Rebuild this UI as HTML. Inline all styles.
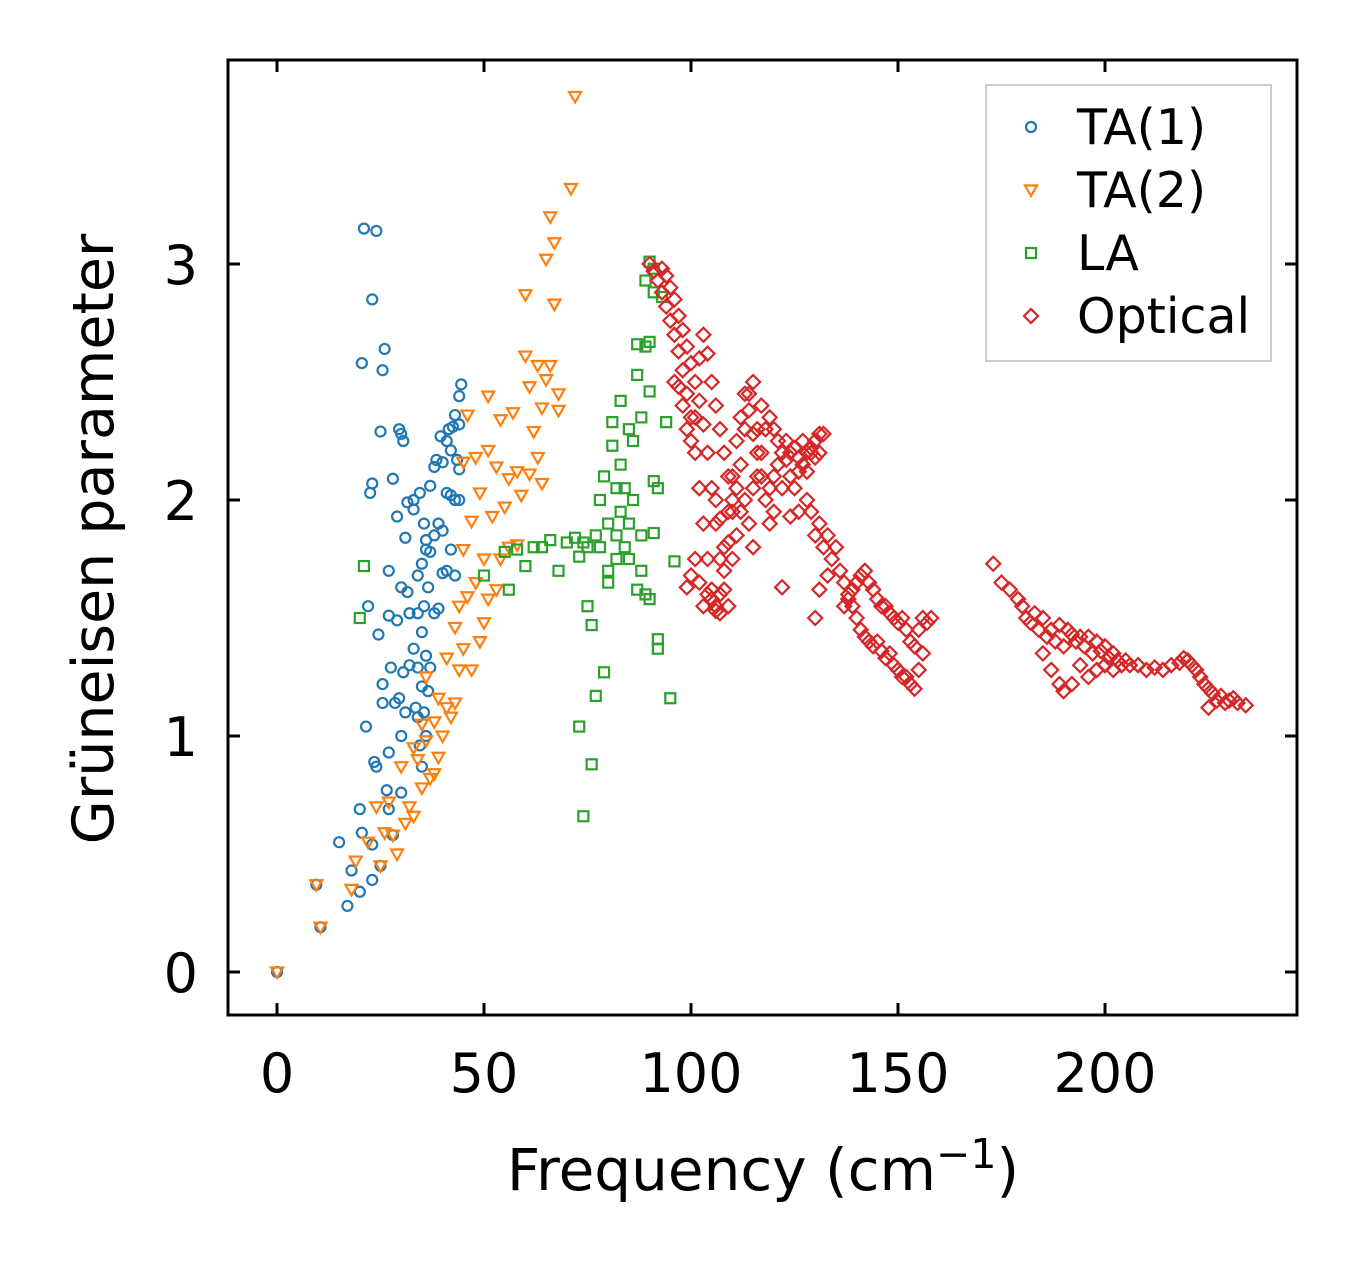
<!DOCTYPE html>
<html><head><meta charset="utf-8"><style>
body{margin:0;background:#fff;}
svg{display:block;font-family:"DejaVu Sans","Liberation Sans",sans-serif;}
</style></head><body>
<svg id="chart" width="1357" height="1264" viewBox="0 0 1357 1264" xmlns="http://www.w3.org/2000/svg">
<rect width="1357" height="1264" fill="#fff"/>
<g id="marks"></g>
<rect x="228" y="60" width="1069" height="955" fill="none" stroke="#000" stroke-width="3"/>
<g id="ticks"></g>
<text x="763" y="1190" font-size="58" text-anchor="middle">Frequency (cm<tspan dy="-22" font-size="41">−1</tspan><tspan dy="22">)</tspan></text>
<text transform="translate(113,539) rotate(-90)" font-size="57" text-anchor="middle">Grüneisen parameter</text>
<g>
<rect x="986" y="85" width="285" height="276" fill="#fff" stroke="#bbb" stroke-width="1.5"/>
<g id="legend-items"></g>
</g>
</svg>
<script>
const xTicks=[0,50,100,150,200];
const yTicks=[0,1,2,3];
const seriesNames=["TA(1)","TA(2)","LA","Optical"];
const seriesColors=["#1f77b4","#ff7f0e","#2ca02c","#d62728"];
const ta1=[[0,0],[9.5,0.37],[10.5,0.19],[15,0.55],[17,0.28],[18,0.43],[20,0.34],[20,0.69],[20.5,2.58],[20.5,0.59],[21,3.15],[21.5,1.04],[22,1.55],[22.5,2.03],[23,2.85],[23,2.07],[23,0.54],[23,0.39],[23.5,0.89],[24,3.14],[24,0.87],[24.5,1.43],[25,2.29],[25,0.45],[25.5,2.55],[25.5,1.22],[25.5,1.14],[26,2.64],[26.5,0.77],[27,1.51],[27,1.70],[27,0.93],[27,0.69],[27.5,1.29],[28,2.09],[28,0.58],[28.5,1.14],[29,1.93],[29,1.49],[29.5,2.30],[29.5,1.16],[30,2.28],[30,1.63],[30,1.00],[30,0.76],[30.5,2.25],[30.5,1.27],[31,1.84],[31,1.10],[31.5,1.99],[31.5,1.61],[32,1.30],[32,1.52],[33,2.00],[33,1.96],[33,1.37],[33.5,1.12],[34,1.68],[34,1.52],[34,1.29],[34,1.08],[34.5,2.03],[34.5,0.96],[35,1.73],[35,1.44],[35,1.21],[35,0.87],[35.5,1.90],[35.5,1.55],[35.5,1.10],[36,1.83],[36,1.79],[36,1.34],[36,1.00],[36.5,1.63],[36.5,1.19],[37,2.06],[37,1.78],[37,1.29],[38,2.14],[38,1.85],[38,1.52],[38.5,2.17],[39,1.90],[39,1.54],[39.5,2.27],[40,2.16],[40,1.87],[40,1.69],[41,2.25],[41,2.03],[41,1.70],[41.5,2.30],[42,2.21],[42,2.02],[42,1.79],[42.5,2.31],[43,2.36],[43,2.00],[43,1.68],[43.5,2.17],[44,2.44],[44,2.32],[44,2.13],[44,2.00],[44.5,2.49]];
const ta2=[[0,0],[9.5,0.37],[10.5,0.19],[18,0.35],[19,0.47],[22,0.55],[24,0.70],[25,0.45],[26,0.59],[27,0.72],[28,0.58],[29,0.50],[30,0.87],[31,0.63],[32,0.70],[33,0.66],[33,0.95],[34,0.90],[35,1.05],[35,0.78],[36,0.98],[36,1.25],[37,0.82],[38,1.06],[38,0.84],[39,0.91],[39,1.16],[40,1.00],[41,1.12],[41,1.33],[42,1.08],[43,1.14],[43,1.46],[44,1.28],[44,1.55],[45,1.37],[45,1.79],[45,2.16],[46,1.59],[46,2.36],[47,1.28],[47,1.91],[48,1.65],[48,2.18],[49,1.40],[49,2.03],[50,1.48],[50,1.75],[51,1.58],[51,2.21],[51,2.44],[52,1.93],[53,1.62],[53,2.14],[54,2.34],[54,1.75],[55,1.97],[56,1.80],[56,2.09],[57,2.37],[58,1.81],[58,2.12],[59,2.02],[60,2.87],[60,2.61],[61,2.48],[61,2.11],[62,2.29],[63,2.57],[63,2.18],[64,2.39],[64,2.07],[65,3.02],[65,2.51],[66,3.20],[66,2.57],[67,3.09],[67,2.83],[68,2.45],[68,2.38],[71,3.32],[72,3.71]];
const la=[[20,1.50],[21,1.72],[50,1.68],[55,1.78],[56,1.62],[58,1.79],[60,1.72],[62,1.80],[64,1.80],[66,1.83],[68,1.70],[70,1.82],[72,1.84],[73,1.76],[73,1.04],[74,0.66],[74,1.82],[75,1.80],[75,1.55],[76,0.88],[76,1.47],[77,1.17],[77,1.85],[78,2.00],[78,1.80],[79,1.27],[79,2.10],[80,1.70],[80,1.65],[80,1.90],[81,2.23],[81,2.33],[82,1.85],[82,2.05],[82,1.75],[83,2.15],[83,1.95],[83,2.42],[84,1.80],[84,2.05],[85,2.30],[85,1.90],[85,1.75],[86,2.00],[86,2.25],[87,2.53],[87,2.66],[87,1.62],[88,2.35],[88,1.85],[88,1.70],[89,2.93],[89,2.65],[89,1.60],[90,3.01],[90,2.67],[90,2.46],[90,1.58],[91,2.98],[91,2.88],[91,2.08],[91,1.86],[92,2.05],[92,1.41],[92,1.37],[93,2.86],[94,2.33],[95,1.16],[96,1.74]];
const optical=[[90,3.00],[91,2.97],[92,2.93],[93,2.88],[94,2.82],[95,2.76],[96,2.70],[97,2.63],[98,2.55],[99,2.45],[100,2.35],[101,2.20],[102,2.05],[103,1.90],[104,1.75],[105,1.62],[106,1.53],[107,1.52],[93,2.98],[94,2.95],[95,2.90],[96,2.85],[97,2.78],[98,2.72],[99,2.65],[100,2.58],[101,2.50],[102,2.42],[103,2.32],[104,2.20],[105,2.05],[106,1.90],[107,1.75],[108,1.62],[109,1.55],[96,2.50],[97,2.48],[98,2.40],[99,2.30],[100,2.25],[101,2.35],[102,2.60],[103,2.70],[104,2.62],[105,2.50],[106,2.40],[107,2.30],[108,2.20],[109,2.10],[110,2.00],[103,1.55],[104,1.60],[105,1.58],[102,1.65],[101,1.75],[100,1.68],[99,1.63],[106,1.55],[107,1.60],[108,1.70],[109,1.82],[110,1.95],[111,2.05],[112,2.15],[113,2.30],[114,2.45],[115,2.50],[108,1.80],[109,1.95],[110,2.10],[111,2.25],[112,2.35],[113,2.45],[114,2.38],[115,2.28],[116,2.20],[117,2.10],[118,2.00],[119,1.90],[115,2.05],[116,2.10],[117,2.20],[118,2.30],[119,2.35],[120,2.30],[121,2.25],[122,2.20],[123,2.17],[124,2.20],[125,2.22],[126,2.18],[127,2.15],[128,2.20],[129,2.22],[130,2.25],[131,2.28],[132,2.28],[120,2.10],[121,2.15],[122,2.05],[123,2.25],[124,2.10],[125,2.05],[126,2.12],[127,2.25],[128,2.12],[129,2.20],[130,2.18],[131,2.20],[117,2.40],[116,2.30],[119,2.05],[120,1.95],[110,1.75],[111,1.85],[112,1.95],[113,2.00],[114,1.90],[115,1.80],[107,1.92],[106,2.00],[128,2.00],[129,1.95],[130,1.85],[131,1.90],[132,1.80],[133,1.85],[134,1.75],[135,1.80],[136,1.70],[137,1.65],[138,1.60],[139,1.55],[140,1.50],[141,1.45],[142,1.42],[143,1.40],[144,1.38],[145,1.40],[146,1.36],[147,1.33],[148,1.35],[149,1.30],[150,1.28],[151,1.25],[152,1.25],[153,1.22],[154,1.20],[155,1.28],[156,1.35],[137,1.55],[138,1.58],[139,1.62],[140,1.65],[141,1.68],[142,1.70],[143,1.65],[144,1.62],[145,1.58],[146,1.55],[147,1.55],[148,1.52],[149,1.50],[150,1.48],[151,1.50],[152,1.45],[153,1.40],[154,1.38],[155,1.45],[156,1.50],[157,1.48],[158,1.50],[133,1.68],[131,1.62],[130,1.50],[122,1.63],[124,1.93],[126,1.95],[173,1.73],[175,1.65],[177,1.62],[179,1.58],[180,1.55],[181,1.50],[182,1.48],[183,1.52],[184,1.45],[185,1.50],[186,1.42],[187,1.45],[188,1.40],[189,1.47],[190,1.38],[191,1.45],[192,1.43],[193,1.40],[194,1.42],[195,1.38],[196,1.42],[197,1.35],[198,1.40],[199,1.36],[200,1.38],[201,1.33],[202,1.35],[203,1.32],[204,1.30],[205,1.32],[206,1.30],[208,1.30],[210,1.28],[212,1.29],[214,1.28],[216,1.30],[218,1.31],[219,1.33],[220,1.32],[221,1.30],[222,1.28],[223,1.25],[224,1.22],[225,1.20],[226,1.18],[228,1.17],[230,1.15],[232,1.14],[234,1.13],[185,1.35],[187,1.28],[189,1.22],[190,1.19],[192,1.22],[194,1.30],[196,1.25],[198,1.28],[200,1.30],[202,1.28],[225,1.12],[227,1.15],[229,1.14],[231,1.16]];

const NS="http://www.w3.org/2000/svg";
function xs(v){return 277+v*4.14;}
function ys(v){return 972-v*236;}
function marker(type,cx,cy,color,parent){
  let el;
  if(type===0){el=document.createElementNS(NS,"circle");el.setAttribute("cx",cx);el.setAttribute("cy",cy);el.setAttribute("r",5);}
  else if(type===1){el=document.createElementNS(NS,"polygon");el.setAttribute("points",`${cx-6},${cy-4.5} ${cx+6},${cy-4.5} ${cx},${cy+6}`);}
  else if(type===2){el=document.createElementNS(NS,"rect");el.setAttribute("x",cx-5);el.setAttribute("y",cy-5);el.setAttribute("width",10);el.setAttribute("height",10);}
  else {el=document.createElementNS(NS,"polygon");el.setAttribute("points",`${cx},${cy-7} ${cx+7},${cy} ${cx},${cy+7} ${cx-7},${cy}`);}
  el.setAttribute("fill","none");el.setAttribute("stroke",color);el.setAttribute("stroke-width",2.2);
  parent.appendChild(el);
  return el;
}
const marks=document.getElementById("marks");
const allSeries=[ta1,ta2,la,optical];
const seriesKeys=["ta1","ta2","la","optical"];
allSeries.forEach((s,i)=>{
  const g=document.createElementNS(NS,"g");
  
  
  marks.appendChild(g);
  s.forEach(p=>{
    const m=marker(i,xs(p[0]),ys(p[1]),seriesColors[i],g);
    
    
  });
});
const tk=document.getElementById("ticks");
function line(x1,y1,x2,y2){const l=document.createElementNS(NS,"line");l.setAttribute("x1",x1);l.setAttribute("y1",y1);l.setAttribute("x2",x2);l.setAttribute("y2",y2);l.setAttribute("stroke","#000");l.setAttribute("stroke-width",3);tk.appendChild(l);return l;}
function text(x,y,s,anchor){const t=document.createElementNS(NS,"text");t.setAttribute("x",x);t.setAttribute("y",y);t.setAttribute("font-size",54);t.setAttribute("text-anchor",anchor);t.textContent=s;tk.appendChild(t);return t;}
xTicks.forEach(v=>{
  const x=xs(v);
  line(x,1015,x,1003);line(x,60,x,72);
  const t=text(x,1092,String(v),"middle");
  
  
});
yTicks.forEach(v=>{
  const y=ys(v);
  line(228,y,240,y);line(1297,y,1285,y);
  const t=text(198,y+20,String(v),"end");
  
  
});
const lg=document.getElementById("legend-items");
seriesNames.forEach((n,i)=>{
  const y=127+i*63;
  const g=document.createElementNS(NS,"g");
  
  
  lg.appendChild(g);
  marker(i,1031,y,seriesColors[i],g);
  const t=document.createElementNS(NS,"text");
  t.setAttribute("x",1077);t.setAttribute("y",y+17);t.setAttribute("font-size",49);
  t.textContent=n;g.appendChild(t);
});
</script>
</body></html>
